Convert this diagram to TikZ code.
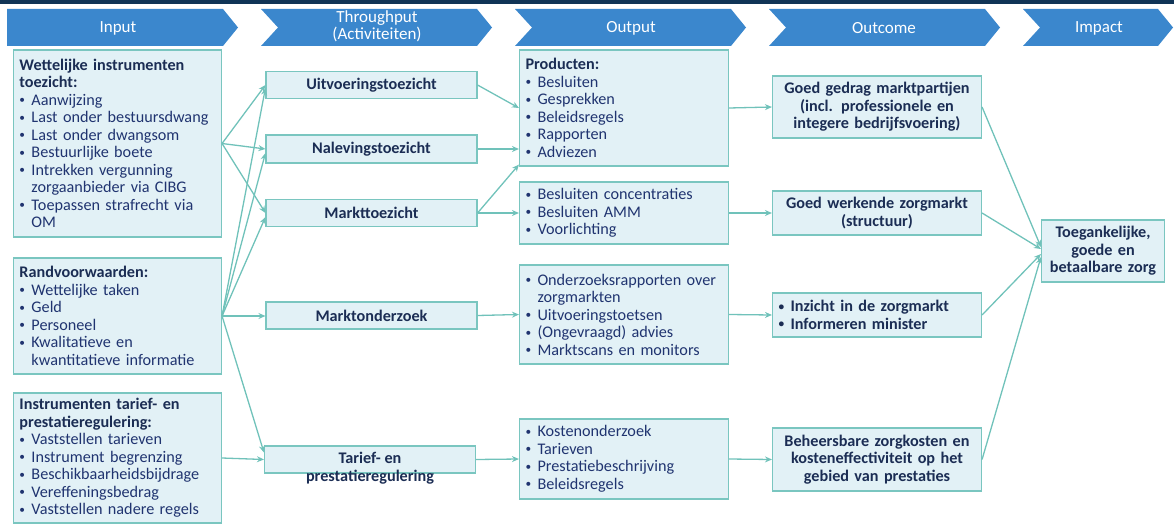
\documentclass[tikz,border=0pt]{standalone}
\usepackage{fontspec}
\usepackage{graphicx}
\setmainfont{Carlito}
\usetikzlibrary{arrows.meta,calc}

\definecolor{topbar}{RGB}{16,52,86}
\definecolor{chevblue}{RGB}{59,135,205}
\definecolor{boxfill}{RGB}{226,241,246}
\definecolor{boxline}{RGB}{122,198,192}
\definecolor{arrowc}{RGB}{112,194,186}
\definecolor{headtext}{RGB}{27,45,84}
\definecolor{bodytext}{RGB}{32,52,112}

\newcommand{\itm}{\makebox[12pt][l]{\raisebox{0.2ex}{\scalebox{0.7}{\textbullet}}}}
\newcommand{\cnt}{\hspace*{12pt}}
\newcommand{\hd}[1]{\textcolor{headtext}{\bfseries #1}}

\tikzset{
    chev/.style={fill=chevblue},
    chevlabel/.style={text=white, align=center, font=\fontsize{17}{17}\selectfont},
    infobox/.style={draw=boxline, fill=boxfill, line width=1.1pt, inner ysep=0pt,
        text=bodytext, font=\fontsize{16.2}{17.5}\selectfont},
    listbox/.style={infobox, align=left, inner xsep=6pt, text width=#1},
    midbox/.style={infobox, align=center, inner xsep=4pt, text width=#1,
        text=headtext, font=\fontsize{16.2}{17.5}\selectfont\bfseries},
    link/.style={draw=arrowc, line width=1.3pt, -{Stealth[length=7pt,width=6pt]}}
}

\begin{document}
\begin{tikzpicture}[x=1pt,y=-1pt]
    \useasboundingbox (0,0) rectangle (1174,524);
    \fill[topbar] (0,0) rectangle (1174,4);

    % header chevrons
    \fill[chev] (7,9) -- (223,9) -- (238,27.5) -- (223,46) -- (7,46) -- cycle;
    \fill[chev] (261,9) -- (477,9) -- (492,27.5) -- (477,46) -- (261,46) -- (278,27.5) -- cycle;
    \fill[chev] (515,9) -- (731,9) -- (746,27.5) -- (731,46) -- (515,46) -- (532,27.5) -- cycle;
    \fill[chev] (769,9) -- (985,9) -- (1000,27.5) -- (985,46) -- (769,46) -- (786,27.5) -- cycle;
    \fill[chev] (1023,9) -- (1158,9) -- (1173,27.5) -- (1158,46) -- (1023,46) -- (1040,27.5) -- cycle;
    \node[chevlabel] (hdin) at (118,28) {Input};
    \node[chevlabel] (hdthr) at (377,26) {Throughput\\(Activiteiten)};
    \node[chevlabel] (hdout) at (631,28) {Output};
    \node[chevlabel] (hdoc) at (884,28) {Outcome};
    \node[chevlabel] (hdimp) at (1099,28) {Impact};

    % input
    \node[listbox=196pt, minimum height=187pt] (wet) at (117.5,143.5) {
        \hd{Wettelijke instrumenten}\\
        \hd{toezicht:}\\
        \itm Aanwijzing\\
        \itm Last onder bestuursdwang\\
        \itm Last onder dwangsom\\
        \itm Bestuurlijke boete\\
        \itm Intrekken vergunning\\
        \cnt zorgaanbieder via CIBG\\
        \itm Toepassen strafrecht via\\
        \cnt OM
    };
    \node[listbox=196pt, minimum height=116pt] (rand) at (117.5,316) {
        \hd{Randvoorwaarden:}\\
        \itm Wettelijke taken\\
        \itm Geld\\
        \itm Personeel\\
        \itm Kwalitatieve en\\
        \cnt kwantitatieve informatie
    };
    \node[listbox=196pt, minimum height=130pt] (tarin) at (117.5,458) {
        \hd{Instrumenten tarief- en}\\
        \hd{prestatieregulering:}\\
        \itm Vaststellen tarieven\\
        \itm Instrument begrenzing\\
        \itm Beschikbaarheidsbijdrage\\
        \itm Vereffeningsbedrag\\
        \itm Vaststellen nadere regels
    };

    % throughput
    \node[midbox=203pt, minimum height=27pt] (uitv) at (371.5,85) {Uitvoeringstoezicht};
    \node[midbox=203pt, minimum height=28pt] (nalev) at (371.5,149) {Nalevingstoezicht};
    \node[midbox=203pt, minimum height=27pt] (markt) at (371.5,213) {Markttoezicht};
    \node[midbox=203pt, minimum height=27pt] (mond) at (371.5,315.5) {Marktonderzoek};
    \node[midbox=203pt, minimum height=27pt] (tarief) at (370,459.5) {};
    \node[text=headtext, align=center, font=\fontsize{16.2}{17.5}\selectfont\bfseries]
        (tariefmsg) at (370,468) {Tarief- en\\prestatieregulering};

    % output
    \node[listbox=197pt, minimum height=116pt] (prod) at (624,108) {
        \hd{Producten:}\\
        \itm Besluiten\\
        \itm Gesprekken\\
        \itm Beleidsregels\\
        \itm Rapporten\\
        \itm Adviezen
    };
    \node[listbox=197pt, minimum height=62pt] (besl) at (624,213) {
        \itm Besluiten concentraties\\
        \itm Besluiten AMM\\
        \itm Voorlichting
    };
    \node[listbox=197pt, minimum height=99pt] (onderz) at (624,314.5) {
        \itm Onderzoeksrapporten over\\
        \cnt zorgmarkten\\
        \itm Uitvoeringstoetsen\\
        \itm (Ongevraagd) advies\\
        \itm Marktscans en monitors
    };
    \node[listbox=197pt, minimum height=80pt] (kosten) at (624,459) {
        \itm Kostenonderzoek\\
        \itm Tarieven\\
        \itm Prestatiebeschrijving\\
        \itm Beleidsregels
    };

    % outcome
    \node[midbox=201pt, minimum height=62pt] (gedrag) at (877,107) {
        Goed gedrag marktpartijen\\
        (incl. professionele en\\
        integere bedrijfsvoering)
    };
    \node[midbox=201pt, minimum height=44pt] (werk) at (877,213) {
        Goed werkende zorgmarkt\\
        (structuur)
    };
    \node[listbox=197pt, minimum height=44pt, text=headtext, font=\fontsize{16.2}{17.5}\selectfont\bfseries]
        (inzicht) at (877,315) {
        \itm Inzicht in de zorgmarkt\\
        \itm Informeren minister
    };
    \node[midbox=201pt, minimum height=63pt] (beheer) at (877,459.5) {
        Beheersbare zorgkosten en\\
        kosteneffectiviteit op het\\
        gebied van prestaties
    };

    % impact
    \node[midbox=115pt, minimum height=62pt] (impact) at (1103,251) {
        Toegankelijke,\\
        goede en\\
        betaalbare zorg
    };

    % connectors
    \draw[link] (wet.east) -- (uitv.west);
    \draw[link] (wet.east) -- (nalev.west);
    \draw[link] (wet.east) -- (markt.west);
    \draw[link] (rand.east) -- ([yshift=-3pt]uitv.west);
    \draw[link] (rand.east) -- ([yshift=-4pt]nalev.west);
    \draw[link] (rand.east) -- ([yshift=-4pt]markt.west);
    \draw[link] (rand.east) -- (rand.east -| mond.west);
    \draw[link] (rand.east) -- ([yshift=7pt]tarief.west);
    \draw[link] (tarin.east) -- (tarief.west);

    \draw[link] (uitv.east) -- (prod.west);
    \draw[link] (nalev.east) -- (prod.west |- nalev.east);
    \draw[link] (markt.east) -- ([yshift=2pt]prod.south west);
    \draw[link] (markt.east) -- (besl.west);
    \draw[link] (mond.east) -- (onderz.west);
    \draw[link] (tarief.east) -- (kosten.west);

    \draw[link] (prod.east) -- (gedrag.west);
    \draw[link] (besl.east) -- (werk.west);
    \draw[link] (onderz.east) -- (inzicht.west);
    \draw[link] (kosten.east) -- (beheer.west);

    \draw[link] (gedrag.east) -- ([yshift=4pt]impact.west);
    \draw[link] (werk.east) -- ([yshift=2pt]impact.west);
    \draw[link] (inzicht.east) -- ([yshift=-3pt]impact.west);
    \draw[link] (beheer.east) -- ([yshift=-6pt]impact.west);
\end{tikzpicture}
\end{document}
